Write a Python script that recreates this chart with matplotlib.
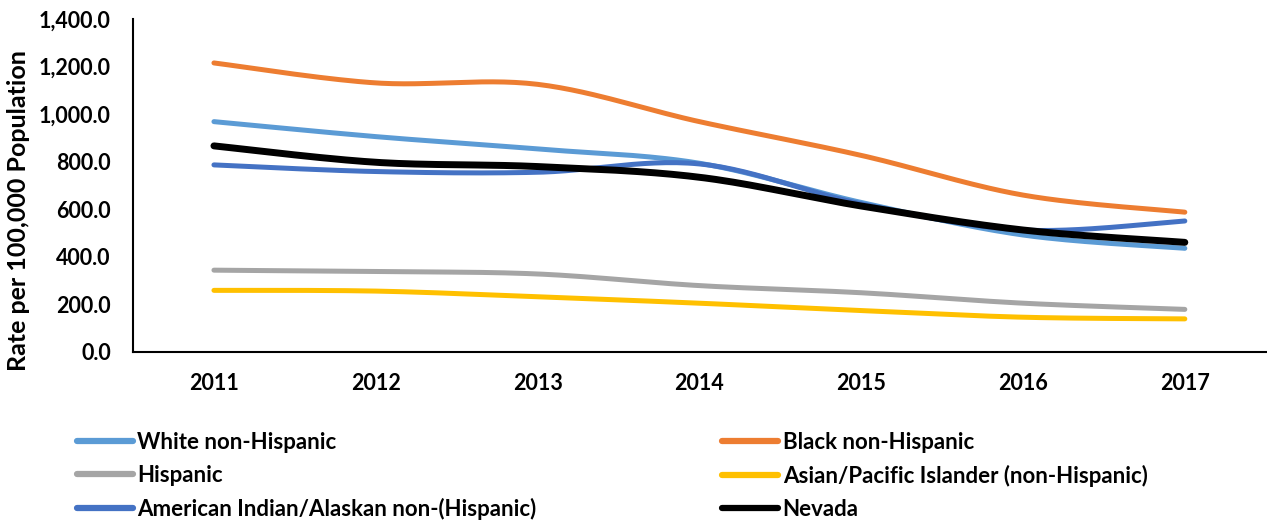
import matplotlib
matplotlib.use("Agg")
import matplotlib.pyplot as plt
from matplotlib.lines import Line2D
import numpy as np

plt.rcParams['font.family'] = ['Lato', 'DejaVu Sans']
plt.rcParams['font.weight'] = 'bold'

years = [2011, 2012, 2013, 2014, 2015, 2016, 2017]

white = [968, 905, 853, 793, 628, 491, 435]
black = [1215, 1131, 1125, 968, 826, 659, 587]
hispanic = [343, 337, 327, 278, 248, 204, 178]
asian = [258, 255, 231, 204, 173, 145, 138]
am_indian = [786, 758, 755, 790, 622, 512, 550]
nevada = [866, 797, 779, 734, 613, 512, 460]

labels = ["White non-Hispanic", "Black non-Hispanic", "Hispanic",
          "Asian/Pacific Islander (non-Hispanic)",
          "American Indian/Alaskan non-(Hispanic)", "Nevada"]
colors = ["#5b9bd5", "#ed7d31", "#a5a5a5", "#ffc000", "#4472c4", "#000000"]
widths = [3.6, 3.6, 3.6, 3.6, 3.6, 5.0]
series = [white, black, hispanic, asian, am_indian, nevada]


def smooth(xs, ys, n=30):
    # bezier smoothing like the office "smoothed line" option
    p = np.column_stack([xs, ys]).astype(float)
    ext = np.vstack([p[0], p, p[-1]])
    out = []
    t = np.linspace(0, 1, n)[:, None]
    for i in range(len(p) - 1):
        p0, p3 = p[i], p[i + 1]
        c1 = p0 + (ext[i + 2] - ext[i]) / 6
        c2 = p3 - (ext[i + 3] - ext[i + 1]) / 6
        seg = ((1 - t) ** 3) * p0 + 3 * ((1 - t) ** 2) * t * c1 \
            + 3 * (1 - t) * t ** 2 * c2 + t ** 3 * p3
        out.append(seg if i == 0 else seg[1:])
    out = np.vstack(out)
    return out[:, 0], out[:, 1]


fig = plt.figure(figsize=(12.67, 5.2), dpi=100)
ax = fig.add_axes([0.105, 0.3237, 0.894, 0.6398])

for ys, c, w in zip(series, colors, widths):
    sx, sy = smooth(years, ys)
    ax.plot(sx, sy, color=c, lw=w, solid_capstyle='round')

ax.set_xlim(2010.5, 2017.5)
ax.set_ylim(0, 1400)
ax.set_xticks(years)
ax.set_xticklabels([str(y) for y in years])
ax.set_yticks(np.arange(0, 1401, 200))
ax.set_yticklabels([f"{v:,.1f}" for v in np.arange(0, 1401, 200)])
ax.tick_params(axis='both', length=0, labelsize=15.5)
ax.tick_params(axis='y', pad=16)
ax.tick_params(axis='x', pad=15)
for lab in ax.get_xticklabels() + ax.get_yticklabels():
    lab.set_fontweight('bold')
ax.spines['top'].set_visible(False)
ax.spines['right'].set_visible(False)
ax.spines['left'].set_linewidth(1.5)
ax.spines['bottom'].set_linewidth(1.5)
ax.set_ylabel("Rate per 100,000 Population", fontsize=18, fontweight='bold')
ax.yaxis.set_label_coords(-0.091, 0.423)

handles = [Line2D([], [], color=c, lw=4.5, solid_capstyle='round') for c in colors]
kw = dict(frameon=False, handlelength=2.5, handletextpad=0.22,
          labelspacing=0.55, borderaxespad=0, borderpad=0,
          prop={'weight': 'bold', 'size': 16})
fig.legend([handles[0], handles[2], handles[4]], [labels[0], labels[2], labels[4]],
           loc='upper left', bbox_to_anchor=(0.0608, 0.170), **kw)
fig.legend([handles[1], handles[3], handles[5]], [labels[1], labels[3], labels[5]],
           loc='upper left', bbox_to_anchor=(0.570, 0.170), **kw)

fig.savefig("out.png", dpi=100)
